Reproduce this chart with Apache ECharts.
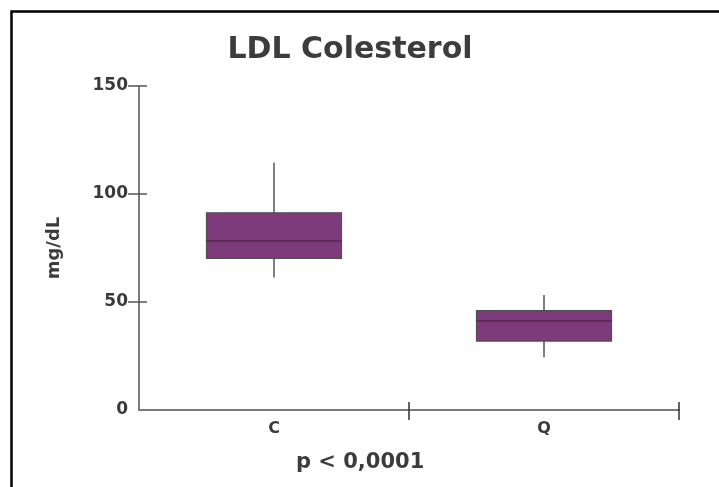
<!DOCTYPE html>
<html>
<head>
<meta charset="utf-8">
<script src="https://cdn.jsdelivr.net/npm/echarts@6/dist/echarts.min.js"></script>
<style>
html,body{margin:0;padding:0;background:#fff;}
#chart{width:719px;height:487px;}
</style>
</head>
<body>
<div id="chart"></div>
<script>
// Data
const categories = ['C', 'Q'];
// [min, Q1, median, Q3, max] in mg/dL
const boxC = [61.4, 70.2, 78.2, 91.3, 114.5];
const boxQ = [24.4, 31.9, 41.2, 46.0, 53.2];
const yTickValues = [0, 50, 100, 150];
const titleText = 'LDL Colesterol';
const yAxisTitle = 'mg/dL';
const footnote = 'p < 0,0001';

const boxes = [boxC, boxQ];
const seriesData = boxes.map((b, i) => [i].concat(b));

const chart = echarts.init(document.getElementById('chart'), null, {renderer: 'canvas'});
const textColor = '#3a3a3a';
const font = '"DejaVu Sans", Verdana, sans-serif';

chart.setOption({
  animation: false,
  backgroundColor: '#fff',
  title: {
    text: titleText,
    left: 345,
    top: 30,
    textAlign: 'center',
    textStyle: {fontFamily: font, fontWeight: 'bold', fontSize: 30, color: '#3c3c3c'}
  },
  grid: {left: 139, right: 40, top: 86, bottom: 77},
  xAxis: [{
    type: 'category',
    data: categories,
    boundaryGap: true,
    axisLine: {lineStyle: {color: '#7a7a7a', width: 2}},
    axisTick: {show: false},
    axisLabel: {margin: 11, fontFamily: font, fontWeight: 'bold', fontSize: 16, color: textColor},
    splitLine: {show: false}
  }, {
    type: 'value', min: 0, max: 2, interval: 1, position: 'bottom',
    axisLine: {show: false},
    axisTick: {show: true, length: 10, customValues: [1, 2], lineStyle: {color: '#333', width: 1.5}},
    axisLabel: {show: false},
    splitLine: {show: false}
  }, {
    type: 'value', min: 0, max: 2, interval: 1, position: 'bottom',
    axisLine: {show: false},
    axisTick: {show: true, inside: true, length: 8, customValues: [1, 2], lineStyle: {color: '#333', width: 1.5}},
    axisLabel: {show: false},
    splitLine: {show: false}
  }],
  yAxis: [{
    type: 'value', min: 0, max: 150, interval: 50,
    axisLine: {show: true, lineStyle: {color: '#7a7a7a', width: 2}},
    axisTick: {show: true, length: 11, customValues: [50, 100, 150], lineStyle: {color: '#555', width: 1.5}},
    axisLabel: {margin: 11, fontFamily: font, fontWeight: 'bold', fontSize: 17, color: textColor,
      customValues: yTickValues},
    splitLine: {show: false},
    name: yAxisTitle,
    nameLocation: 'middle',
    nameGap: 76,
    nameRotate: 90,
    nameTextStyle: {fontFamily: font, fontWeight: 'bold', fontSize: 18, color: '#3c3c3c'}
  }, {
    type: 'value', min: 0, max: 150, interval: 50, position: 'left',
    axisLine: {show: false},
    axisTick: {show: true, inside: true, length: 8, customValues: [50, 100, 150], lineStyle: {color: '#555', width: 1.5}},
    axisLabel: {show: false},
    splitLine: {show: false}
  }],
  series: [{
    type: 'custom',
    xAxisIndex: 0,
    yAxisIndex: 0,
    data: seriesData,
    encode: {x: 0, y: [1, 2, 3, 4, 5]},
    renderItem: function (params, api) {
      const idx = api.value(0);
      const vmin = api.value(1), q1 = api.value(2), med = api.value(3), q3 = api.value(4), vmax = api.value(5);
      const pMax = api.coord([idx, vmax]);
      const pQ3 = api.coord([idx, q3]);
      const pMed = api.coord([idx, med]);
      const pQ1 = api.coord([idx, q1]);
      const pMin = api.coord([idx, vmin]);
      const bw = api.size([1, 0])[0] * 0.5;
      const cx = pMed[0];
      const lineStyle = {stroke: '#555', lineWidth: 1.5};
      return {
        type: 'group',
        children: [
          {type: 'line', shape: {x1: cx, y1: pMax[1], x2: cx, y2: pQ3[1]}, style: lineStyle},
          {type: 'line', shape: {x1: cx, y1: pQ1[1], x2: cx, y2: pMin[1]}, style: lineStyle},
          {type: 'rect', shape: {x: cx - bw / 2, y: pQ3[1], width: bw, height: pQ1[1] - pQ3[1]},
            style: {fill: '#7d3b7b', stroke: '#4f4f4f', lineWidth: 1.2}},
          {type: 'line', shape: {x1: cx - bw / 2, y1: pMed[1], x2: cx + bw / 2, y2: pMed[1]},
            style: {stroke: '#5a2c59', lineWidth: 2}}
        ]
      };
    }
  }],
  graphic: [
    {type: 'rect', left: 9, top: 9, shape: {width: 712, height: 500},
      style: {fill: 'none', stroke: '#000', lineWidth: 2.5}, z: 100},
    {type: 'text', left: 296, top: 452,
      style: {text: footnote, fontFamily: font, fontWeight: 'bold', fontSize: 21, fill: '#3c3c3c'}}
  ]
});
</script>
</body>
</html>
